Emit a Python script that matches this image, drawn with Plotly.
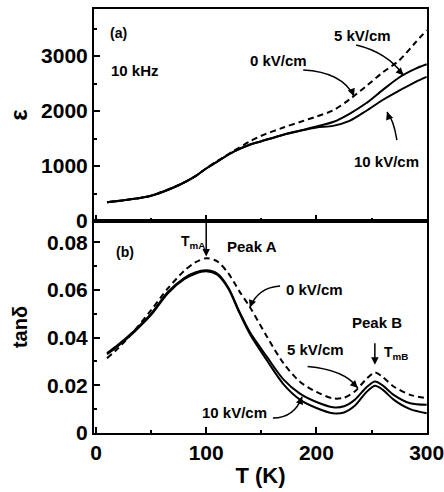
import plotly.graph_objects as go

# ---- data: panel (a) permittivity ----
T_eps = [10, 30, 50, 75, 90, 100, 110, 125, 140, 150, 170, 185, 200, 215, 230, 245, 260, 275, 290, 300]
eps_0kV = [340, 390, 460, 655, 815, 960, 1090, 1275, 1450, 1550, 1700, 1800, 1900, 2010, 2210, 2450, 2700, 2920, 3250, 3470]
eps_5kV = [340, 390, 460, 650, 810, 955, 1080, 1260, 1390, 1450, 1570, 1640, 1720, 1800, 1950, 2140, 2380, 2610, 2770, 2850]
eps_10kV = [340, 390, 460, 650, 810, 955, 1080, 1260, 1390, 1450, 1570, 1640, 1700, 1730, 1820, 2000, 2200, 2370, 2530, 2620]

# ---- data: panel (b) loss tangent ----
T_tan = [10, 20, 35, 50, 65, 80, 90, 100, 110, 120, 130, 140, 155, 170, 185, 200, 215, 225, 235, 245, 253, 260, 270, 285, 300]
tan_0kV = [0.0314, 0.0355, 0.0430, 0.0515, 0.0605, 0.0680, 0.0715, 0.0733, 0.0720, 0.0670, 0.0595, 0.0525, 0.0405, 0.0293, 0.0215, 0.0172, 0.0145, 0.0148, 0.0175, 0.0225, 0.0254, 0.0235, 0.0195, 0.0160, 0.0146]
tan_5kV = [0.0335, 0.0370, 0.0430, 0.0500, 0.0590, 0.0650, 0.0673, 0.0682, 0.0668, 0.0610, 0.0510, 0.0420, 0.0320, 0.0225, 0.0165, 0.0130, 0.0108, 0.0112, 0.0140, 0.0190, 0.0216, 0.0200, 0.0160, 0.0125, 0.0118]
tan_10kV = [0.0330, 0.0365, 0.0425, 0.0495, 0.0585, 0.0645, 0.0668, 0.0678, 0.0664, 0.0606, 0.0505, 0.0412, 0.0305, 0.0205, 0.0140, 0.0105, 0.0083, 0.0086, 0.0115, 0.0170, 0.0198, 0.0182, 0.0140, 0.0100, 0.0083]

x_ticks = [0, 100, 200, 300]
eps_ticks = [0, 1000, 2000, 3000]
tan_ticks = [0, 0.02, 0.04, 0.06, 0.08]
tan_ticklabels = ["0", "0.02", "0.04", "0.06", "0.08"]

FONT = "Liberation Sans, Arial, sans-serif"
fig = go.Figure()

def line(x, y, dash, xa, ya):
    fig.add_trace(go.Scatter(x=x, y=y, mode="lines", xaxis=xa, yaxis=ya,
                             line=dict(color="black", width=2, dash=dash, shape="spline", smoothing=0.8),
                             showlegend=False, hoverinfo="skip"))

DASH = "6px,4px"
line(T_eps, eps_0kV, DASH, "x2", "y2")
line(T_eps, eps_5kV, "solid", "x2", "y2")
line(T_eps, eps_10kV, "solid", "x2", "y2")
line(T_tan, tan_0kV, DASH, "x", "y")
line(T_tan, tan_5kV, "solid", "x", "y")
line(T_tan, tan_10kV, "solid", "x", "y")

tickfont = dict(family=FONT, size=21, color="black", weight="bold")
common_x = dict(range=[-1.8, 300.3], showline=True, linecolor="black", linewidth=2, mirror=True,
                ticks="inside", ticklen=6, tickwidth=1.5, tickcolor="black", showgrid=False, zeroline=False,
                automargin=False,
                minor=dict(ticks="inside", ticklen=3, dtick=50, tickcolor="black"))
fig.update_layout(
    width=444, height=492, margin=dict(l=94, r=17, t=9, b=59),
    paper_bgcolor="white", plot_bgcolor="white",
    xaxis=dict(common_x, anchor="y", tickvals=x_ticks, tickfont=tickfont, ticklabeloverflow="allow",
               title=dict(text="<b>T (K)</b>", font=dict(family=FONT, size=22, color="black"), standoff=4)),
    xaxis2=dict(common_x, anchor="y2", matches="x", tickvals=x_ticks, showticklabels=False),
    yaxis=dict(domain=[0, 0.5], range=[0, 0.0889], tickvals=tan_ticks, ticktext=tan_ticklabels,
               tickfont=tickfont, showline=True, linecolor="black", linewidth=2, mirror=True,
               ticks="inside", ticklen=6, tickwidth=1.5, tickcolor="black", showgrid=False, zeroline=False,
               automargin=False,
               minor=dict(ticks="inside", ticklen=3, dtick=0.01, tickcolor="black"),
               title=dict(text="<b>tanδ</b>", font=dict(family=FONT, size=20, color="black"), standoff=14)),
    yaxis2=dict(domain=[0.5, 1], range=[0, 3855], tickvals=eps_ticks,
                tickfont=tickfont, showline=True, linecolor="black", linewidth=2, mirror=True,
                ticks="inside", ticklen=6, tickwidth=1.5, tickcolor="black", showgrid=False, zeroline=False,
                automargin=False,
                minor=dict(ticks="inside", ticklen=3, dtick=500, tickcolor="black"),
                title=dict(text="<b>ε</b>", font=dict(family=FONT, size=24, color="black"), standoff=7)),
)

afont = dict(family=FONT, size=15, color="black", weight="bold")

def label(text, x, y, xa, ya, size=15):
    fig.add_annotation(text=text, x=x, y=y, xref=xa, yref=ya, showarrow=False,
                       font=dict(afont, size=size))

# panel (a) labels
label("(a)", 20, 3418, "x2", "y2", 14)
label("10 kHz", 35.5, 2745, "x2", "y2")
label("0 kV/cm", 165.5, 2927, "x2", "y2")
label("5 kV/cm", 242, 3382, "x2", "y2")
label("10 kV/cm", 263.6, 1073, "x2", "y2")
# panel (b) labels
label("(b)", 26, 0.0758, "x", "y", 14)
label("T<sub>mA</sub>", 88, 0.0800, "x", "y", 14)
label("Peak A", 141.4, 0.0783, "x", "y")
label("0 kV/cm", 198.5, 0.0602, "x", "y")
label("Peak B", 254.7, 0.0463, "x", "y")
label("T<sub>mB</sub>", 272, 0.0337, "x", "y", 14)
label("5 kV/cm", 199.5, 0.0350, "x", "y")
label("10 kV/cm", 126, 0.0088, "x", "y")

# curved pointer arrows: (start, control, end) in data units
def curved(p0, c, p1, xa, ya, headx, heady):
    fig.add_shape(type="path", xref=xa, yref=ya,
                  path=f"M {p0[0]},{p0[1]} Q {c[0]},{c[1]} {p1[0]},{p1[1]}",
                  line=dict(color="black", width=1.5))
    fig.add_annotation(x=p1[0], y=p1[1], xref=xa, yref=ya, text="", showarrow=True,
                       ax=headx, ay=heady, arrowhead=2, arrowsize=1, arrowwidth=1.5, arrowcolor="black")

curved((188, 2745), (223, 2710), (234, 2270), "x2", "y2", -3, -8)
curved((236, 3200), (264, 3070), (279, 2650), "x2", "y2", -6, -6)
curved((273, 1470), (270, 1840), (264, 1980), "x2", "y2", 3, 8)
curved((167, 0.0616), (147, 0.0610), (139.6, 0.0526), "x", "y", 3, -8)
curved((192, 0.0279), (226, 0.0265), (237.5, 0.0189), "x", "y", -6, -6)
curved((160.5, 0.0063), (180, 0.0063), (187, 0.0152), "x", "y", -3, 8)

# vertical markers for T_mA and T_mB
fig.add_annotation(x=100, y=0.0740, xref="x", yref="y", text="", showarrow=True,
                   axref="x", ayref="y", ax=100, ay=0.0889, arrowhead=2, arrowsize=1,
                   arrowwidth=1.5, arrowcolor="black")
fig.add_annotation(x=253, y=0.0286, xref="x", yref="y", text="", showarrow=True,
                   axref="x", ayref="y", ax=253, ay=0.0383, arrowhead=2, arrowsize=1,
                   arrowwidth=1.5, arrowcolor="black")

fig.write_html("out.html")
